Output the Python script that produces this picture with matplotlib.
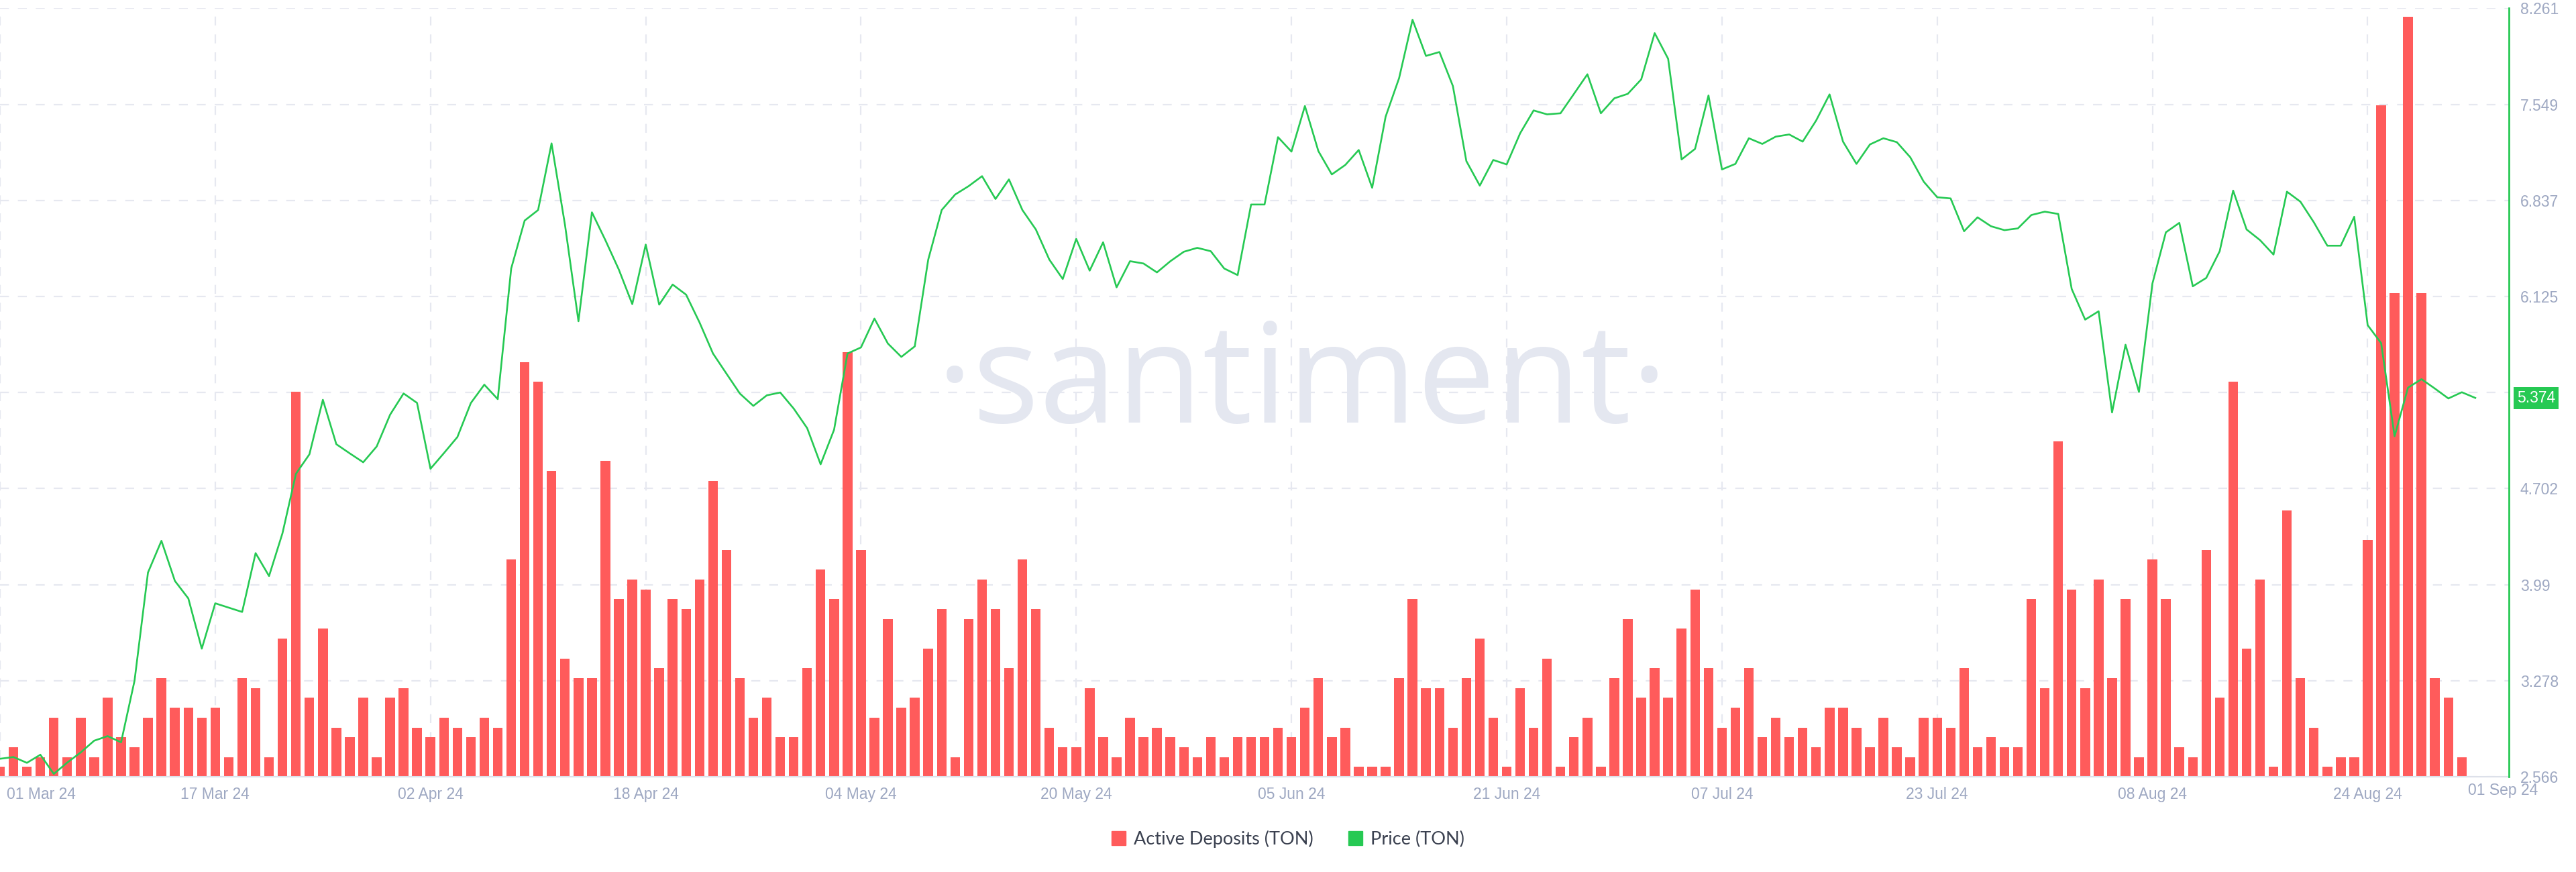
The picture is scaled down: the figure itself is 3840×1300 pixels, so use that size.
import matplotlib
matplotlib.use("Agg")
import matplotlib.pyplot as plt
import matplotlib.transforms as mtransforms
from matplotlib.patches import Patch
import numpy as np
import pandas as pd

# daily Active Deposits (TON), 01 Mar 24 .. 31 Aug 24
deposits = [1, 3, 1, 2, 6, 2, 6, 2, 8, 4, 3, 6, 10, 7, 7, 6, 7, 2, 10, 9, 2, 14, 39, 8, 15, 5, 4, 8, 2, 8, 9, 5,
            4, 6, 5, 4, 6, 5, 22, 42, 40, 31, 12, 10, 10, 32, 18, 20, 19, 11, 18, 17, 20, 30, 23, 10, 6, 8, 4, 4, 11, 21,
            18, 43, 23, 6, 16, 7, 8, 13, 17, 2, 16, 20, 17, 11, 22, 17, 5, 3, 3, 9, 4, 2, 6, 4, 5, 4, 3, 2, 4, 2,
            4, 4, 4, 5, 4, 7, 10, 4, 5, 1, 1, 1, 10, 18, 9, 9, 5, 10, 14, 6, 1, 9, 5, 12, 1, 4, 6, 1, 10, 16, 8, 11,
            8, 15, 19, 11, 5, 7, 11, 4, 6, 4, 5, 3, 7, 7, 5, 3, 6, 3, 2, 6, 6, 5, 11, 3, 4, 3, 3, 18, 9, 34, 19, 9,
            20, 10, 18, 2, 22, 18, 3, 2, 23, 8, 40, 13, 20, 1, 27, 10, 5, 1, 2, 2, 24, 68, 49, 77, 49, 10, 8, 2]

# daily Price (TON), 01 Mar 24 .. 01 Sep 24
price = [2.700, 2.713, 2.670, 2.730, 2.588, 2.672, 2.747, 2.834, 2.868, 2.822, 3.278, 4.080, 4.315, 4.018, 3.888,
         3.516, 3.852, 3.820, 3.788, 4.224, 4.054, 4.372, 4.812, 4.956, 5.360, 5.031, 4.963, 4.897, 5.014, 5.250,
         5.407, 5.337, 4.849, 4.965, 5.084, 5.336, 5.472, 5.365, 6.333, 6.688, 6.766, 7.260, 6.655, 5.942, 6.749,
         6.543, 6.325, 6.069, 6.510, 6.065, 6.214, 6.139, 5.933, 5.703, 5.554, 5.406, 5.315, 5.393, 5.414, 5.295,
         5.150, 4.882, 5.138, 5.703, 5.748, 5.962, 5.777, 5.678, 5.756, 6.399, 6.766, 6.881, 6.943, 7.017, 6.848,
         6.993, 6.766, 6.622, 6.399, 6.255, 6.552, 6.317, 6.527, 6.193, 6.387, 6.370, 6.304, 6.387, 6.457, 6.486,
         6.461, 6.333, 6.284, 6.807, 6.807, 7.306, 7.199, 7.537, 7.203, 7.030, 7.100, 7.211, 6.931, 7.458, 7.743,
         8.176, 7.908, 7.937, 7.685, 7.129, 6.947, 7.137, 7.104, 7.335, 7.504, 7.475, 7.483, 7.627, 7.772, 7.483,
         7.594, 7.627, 7.734, 8.077, 7.887, 7.141, 7.219, 7.615, 7.067, 7.108, 7.298, 7.256, 7.310, 7.326, 7.273,
         7.429, 7.623, 7.273, 7.108, 7.252, 7.298, 7.269, 7.157, 6.976, 6.861, 6.852, 6.609, 6.712, 6.646, 6.617,
         6.630, 6.729, 6.754, 6.737, 6.181, 5.954, 6.016, 5.266, 5.768, 5.418, 6.222, 6.601, 6.671, 6.201, 6.263,
         6.461, 6.910, 6.622, 6.543, 6.436, 6.902, 6.828, 6.675, 6.502, 6.502, 6.716, 5.913, 5.780, 5.090, 5.450,
         5.513, 5.443, 5.370, 5.416, 5.374]

start = pd.Timestamp("2024-03-01")
date_labels = ["01 Mar 24", "17 Mar 24", "02 Apr 24", "18 Apr 24", "04 May 24", "20 May 24", "05 Jun 24",
               "21 Jun 24", "07 Jul 24", "23 Jul 24", "08 Aug 24", "24 Aug 24", "01 Sep 24"]
price_ticks = [2.566, 3.278, 3.99, 4.702, 5.413, 6.125, 6.837, 7.549, 8.261]

RED = "#ff5b5b"
GREEN = "#26c953"
GRID = "#e6e8f0"
TICK = "#9ea8c2"
TEXT = "#3b4150"

fig = plt.figure(figsize=(38.4, 13), dpi=100)
fig.patch.set_facecolor("white")

ax = fig.add_axes([0.0, 0.1091, 0.97396, 0.8814])
ax2 = ax.twinx()

x_bar = np.arange(len(deposits))
x_line = np.arange(len(price))
day_pos = [(pd.to_datetime(s, format="%d %b %y") - start).days for s in date_labels]

# bars (left, hidden axis)
ax.bar(x_bar, deposits, width=0.72, color=RED, zorder=2)
bar_top = max(deposits) * 1.011
ax.set_ylim(0, bar_top)
ax.set_xlim(0, 186.5)
ax.set_yticks(np.linspace(0, bar_top, len(price_ticks)))
ax.set_xticks(day_pos[:-1])
ax.grid(True, color=GRID, linestyle=(0, (6, 6)), linewidth=1.6)
ax.set_axisbelow(True)
ax.tick_params(axis="y", left=False, labelleft=False)
ax.tick_params(axis="x", length=0, pad=11, labelsize=16.5, labelcolor=TICK)
ax.set_xticklabels(date_labels[:-1], fontfamily="Liberation Sans")
for s in ["left", "top", "right"]:
    ax.spines[s].set_visible(False)
ax.spines["bottom"].set_color("#dde1ea")
ax.spines["bottom"].set_linewidth(1.5)

# shift first date label so it is not clipped
first = ax.get_xticklabels()[0]
first.set_horizontalalignment("left")
first.set_transform(first.get_transform() + mtransforms.ScaledTranslation(10 / 100, 0, fig.dpi_scale_trans))

# last date label sits at the right edge without a grid line
ax.annotate(date_labels[-1], xy=(day_pos[-1], 0), xycoords=("data", "axes fraction"),
            xytext=(41, -20), textcoords="offset pixels", ha="center", va="center",
            fontsize=16.5, color=TICK, fontfamily="Liberation Sans", annotation_clip=False)

# watermark
ax.text(0.519, 0.508, "·santiment·", transform=ax.transAxes, ha="center", va="center",
        fontsize=150, color="#e4e7f0", fontfamily="Open Sans", zorder=1)

# price line (right axis)
ax2.plot(x_line, price, color=GREEN, linewidth=1.9, zorder=3)
ax2.set_ylim(price_ticks[0], price_ticks[-1])
ax2.set_yticks(price_ticks)
ax2.set_yticklabels([str(t) for t in price_ticks], fontfamily="Liberation Sans")
ax2.tick_params(axis="y", length=0, pad=12, labelsize=16.5, labelcolor=TICK)
for s in ["left", "top", "bottom"]:
    ax2.spines[s].set_visible(False)
ax2.spines["right"].set_color(GREEN)
ax2.spines["right"].set_linewidth(2)

ax2.annotate(f"{price[-1]:.3f}", xy=(1, price[-1]), xycoords=("axes fraction", "data"),
             xytext=(12, 0), textcoords="offset pixels", ha="left", va="center",
             fontsize=16.5, color="white", fontfamily="Liberation Sans", annotation_clip=False,
             bbox=dict(boxstyle="square,pad=0.22", fc=GREEN, ec="none"), zorder=5)

handles = [Patch(color=RED, label="Active Deposits (TON)"), Patch(color=GREEN, label="Price (TON)")]
fig.legend(handles=handles, loc="center", bbox_to_anchor=(0.5, 0.038), ncol=2, frameon=False,
           handlelength=0.8, handleheight=0.8, handletextpad=0.45, columnspacing=1.9,
           prop={"family": "Lato", "size": 19.5}, labelcolor=TEXT)

fig.savefig("out.png", dpi=100, facecolor="white")
